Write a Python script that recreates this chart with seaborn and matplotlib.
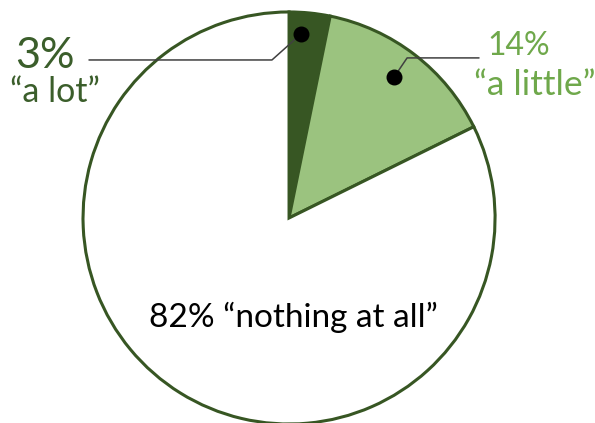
import matplotlib
matplotlib.use("Agg")
import matplotlib.pyplot as plt
import seaborn as sns

# Shares of answers
answers = ["a lot", "a little", "nothing at all"]
shares = [3.2, 14.5, 82.3]
share_labels = ["3%", "14%", "82%"]
slice_colors = ["#375623", "#9BC37F", "#FFFFFF"]

sns.set_style("white")
plt.rcParams['font.family'] = ['Lato', 'DejaVu Sans']

edge = "#375623"

fig = plt.figure(figsize=(5.95, 4.23), dpi=100)
ax = fig.add_axes([0, 0, 1, 1])

ax.pie(shares, colors=slice_colors, startangle=90, counterclock=False,
       wedgeprops=dict(edgecolor=edge, linewidth=2.2))

# axes limits so that the pie sits where it does in the picture
ax.set_xlim(-1.403, 1.485)
ax.set_ylim(-0.995, 1.058)
ax.set_aspect('equal')
ax.axis('off')

# leader lines with dots
ax.plot([0.058, -0.083, -0.971], [0.893, 0.767, 0.767], color="#404040", lw=1.1, zorder=3)
ax.plot([0.510, 0.573, 0.922], [0.684, 0.777, 0.777], color="#404040", lw=1.1, zorder=3)
ax.scatter([0.058, 0.510], [0.893, 0.684], s=110, color="black", zorder=4)

# labels
ax.text(-1.184, 0.728, share_labels[0], ha='center', va='baseline',
        fontsize=31, color="#3B5E2B")
ax.text(-1.136, 0.563, "\u201c" + answers[0] + "\u201d", ha='center', va='baseline',
        fontsize=24.5, color="#3B5E2B")
ax.text(1.117, 0.791, share_labels[1], ha='center', va='baseline',
        fontsize=23, color="#6FA84B")
ax.text(1.194, 0.597, "\u201c" + answers[1] + "\u201d", ha='center', va='baseline',
        fontsize=25.5, color="#6FA84B")
ax.text(0.019, -0.529, share_labels[2] + " \u201c" + answers[2] + "\u201d", ha='center',
        va='baseline', fontsize=24, color="black")

fig.savefig("out.png", dpi=100)
